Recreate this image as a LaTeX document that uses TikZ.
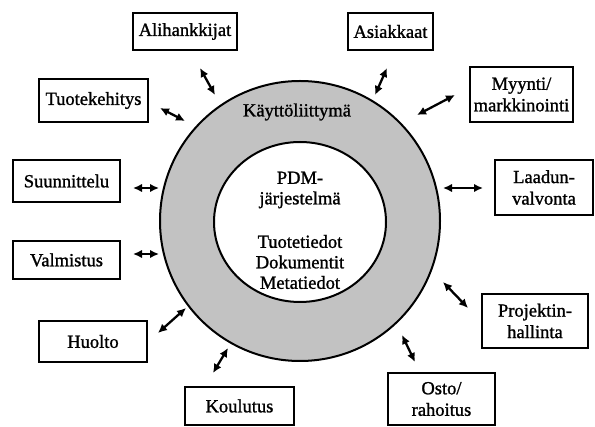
\documentclass[tikz,border=0pt]{standalone}
\usepackage{fontspec}
\setmainfont{Liberation Serif}[FakeBold=1.2]
\usetikzlibrary{arrows.meta}
\begin{document}
\begin{tikzpicture}[x=1pt,y=-1pt,
  box/.style={draw, line width=2pt, fill=white, align=center, inner sep=0pt,
    font=\fontsize{18.5}{21.5}\selectfont},
  link/.style={line width=2.3pt, {Latex[length=9pt,width=8.5pt]}-{Latex[length=9pt,width=8.5pt]}},
  ringtext/.style={align=center, font=\fontsize{18.5}{20.5}\selectfont}]
\useasboundingbox (0,0) rectangle (595,427);

% user interface ring and PDM core
\draw[line width=2pt, fill=black!24] (300,221) circle[radius=140];
\draw[line width=2pt, fill=white] (300,222) ellipse[x radius=86, y radius=80];
\node[ringtext] (ui) at (297,112) {Käyttöliittymä};
\node[ringtext] (pdm) at (300,190) {PDM-\\järjestelmä};
\node[ringtext] (data) at (300,262) {Tuotetiedot\\Dokumentit\\Metatiedot};

% surrounding functions
\node[box, minimum width=104, minimum height=37] (ali) at (185,31.5) {Alihankkijat};
\node[box, minimum width=85, minimum height=37] (asi) at (390.5,31.5) {Asiakkaat};
\node[box, minimum width=103, minimum height=55] (myy) at (521.5,94.5) {Myynti/\\markkinointi};
\node[box, minimum width=109, minimum height=43] (tuo) at (93.5,100.5) {Tuotekehitys};
\node[box, minimum width=107, minimum height=42] (suu) at (66.5,181) {Suunnittelu};
\node[box, minimum width=107, minimum height=38] (val) at (66.5,260) {Valmistus};
\node[box, minimum width=108, minimum height=41] (huo) at (93,341.5) {Huolto};
\node[box, minimum width=109, minimum height=38] (kou) at (239.5,406) {Koulutus};
\node[box, minimum width=98, minimum height=55] (laa) at (544,187.5) {Laadun-\\valvonta};
\node[box, minimum width=106, minimum height=54] (pro) at (535,321) {Projektin-\\hallinta};
\node[box, minimum width=107, minimum height=52] (ost) at (441.5,399) {Osto/\\rahoitus};

% arrow end points between the boxes and the ring
\coordinate (ali1) at (200,68);  \coordinate (ali2) at (215,95);
\coordinate (asi1) at (387,68);  \coordinate (asi2) at (375,95);
\coordinate (myy1) at (455,95);  \coordinate (myy2) at (417,115);
\coordinate (tuo1) at (160,108); \coordinate (tuo2) at (185,121);
\coordinate (suu1) at (133,188); \coordinate (suu2) at (159,188);
\coordinate (val1) at (133,254); \coordinate (val2) at (159,254);
\coordinate (huo1) at (158,333); \coordinate (huo2) at (186,308);
\coordinate (kou1) at (213,373); \coordinate (kou2) at (228,348);
\coordinate (laa1) at (483,188); \coordinate (laa2) at (443,188);
\coordinate (pro1) at (468,308); \coordinate (pro2) at (443,282);
\coordinate (ost1) at (415,362); \coordinate (ost2) at (402,335);

\foreach \n in {ali,asi,myy,tuo,suu,val,huo,kou,laa,pro,ost}
  \draw[link] (\n1) -- (\n2);
\end{tikzpicture}
\end{document}
